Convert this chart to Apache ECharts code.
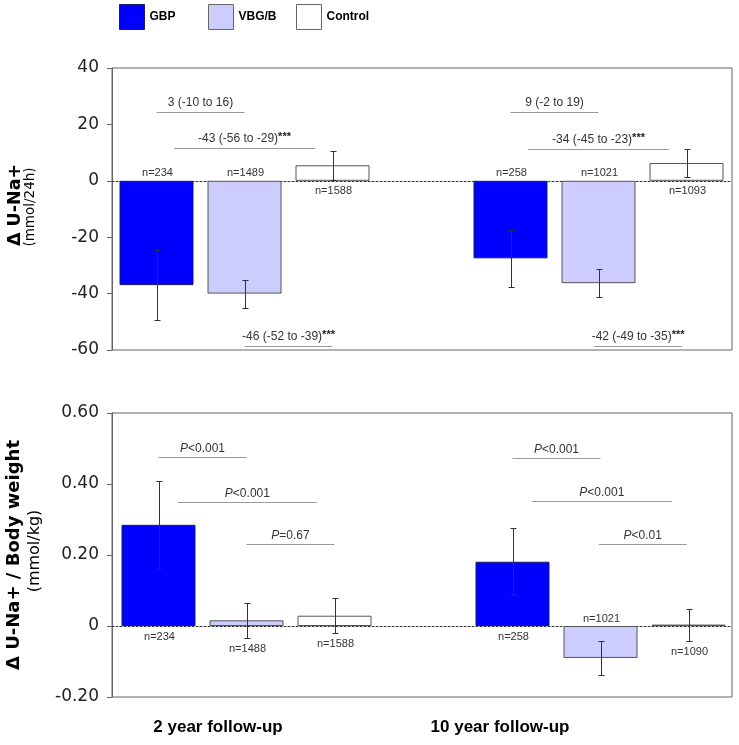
<!DOCTYPE html>
<html><head><meta charset="utf-8">
<script src="https://cdn.jsdelivr.net/npm/echarts@6/dist/echarts.min.js"></script>
<style>html,body{margin:0;padding:0;background:#fff}#c{width:739px;height:745px}</style>
</head><body><div id="c"></div>
<script>
// ---------- data ----------
const categories = ['2 year follow-up', '10 year follow-up'];
const groupNames = ['GBP', 'VBG/B', 'Control'];

// Panel A: change in U-Na+ (mmol/24h)
const naGBP = [-37, -27.5];
const naVBG = [-40, -36.3];
const naCtrl = [5.5, 6.3];
const naErrGBP = [12.3, 10];
const naErrVBG = [5, 5];
const naErrCtrl = [5.2, 5];
const naNGBP = [234, 258];
const naNVBG = [1489, 1021];
const naNCtrl = [1588, 1093];
const naTickLabels = ['-60', '-40', '-20', '0', '20', '40'];

// Panel A comparisons
const naCompCat = [0, 0, 0, 1, 1, 1];
const naCompFrom = [0, 0.2, 1, 0, 0.2, 0.95];
const naCompTo = [1, 1.8, 2, 1, 1.8, 1.95];
const naCompY = [24.5, 11.5, -58.6, 24.4, 11.4, -58.6];
const naCompText = ['3 (-10 to 16)', '-43 (-56 to -29)', '-46 (-52 to -39)', '9 (-2 to 19)', '-34 (-45 to -23)', '-42 (-49 to -35)'];
const naCompStars = ['', '***', '***', '', '***', '***'];

// Panel B: change in U-Na+ / body weight (mmol/kg)
const bwGBP = [0.285, 0.181];
const bwVBG = [0.016, -0.090];
const bwCtrl = [0.029, 0.004];
const bwErrGBP = [0.124, 0.094];
const bwErrVBG = [0.05, 0.048];
const bwErrCtrl = [0.049, 0.045];
const bwNGBP = [234, 258];
const bwNVBG = [1488, 1021];
const bwNCtrl = [1588, 1090];
const bwTickLabels = ['-0.20', '0', '0.20', '0.40', '0.60'];

// Panel B comparisons
const bwCompCat = [0, 0, 0, 1, 1, 1];
const bwCompFrom = [0, 0.22, 1, 0, 0.22, 0.98];
const bwCompTo = [1, 1.8, 2, 1, 1.81, 1.98];
const bwCompY = [0.476, 0.350, 0.230, 0.473, 0.352, 0.231];
const bwCompText = ['<0.001', '<0.001', '=0.67', '<0.001', '<0.001', '<0.01'];

// ---------- styling / layout ----------
const FONT = '"Liberation Sans", Arial, sans-serif';
const BAR_W = 74, BAR_GAP = 14, PITCH = BAR_W + BAR_GAP;
const colors = ['#0000ff', '#ccccff', '#ffffff'];
const borders = ['#1c1c60', '#555555', '#555555'];
const legendLeft = [119, 208, 296];
const axisCats = [categories[0], '', categories[1]];
const catPos = [0, 2];

function barData(arr) { return [arr[0], '-', arr[1]]; }

function errData(vals, errs, ns) {
  const out = [];
  for (let i = 0; i < categories.length; i++) {
    for (let s = 0; s < 3; s++) {
      out.push([catPos[i], s, vals[s][i], errs[s][i], ns[s][i]]);
    }
  }
  return out;
}

function errRender(params, api) {
  const cat = api.value(0), slot = api.value(1), v = api.value(2), e = api.value(3);
  const n = api.value(4);
  const cx = Math.round(api.coord([cat, 0])[0] + (slot - 1) * PITCH) + 0.5;
  const yTop = Math.round(api.coord([cat, v + e])[1]) + 0.5;
  const yBot = Math.round(api.coord([cat, v - e])[1]) + 0.5;
  const y0 = api.coord([cat, 0])[1];
  const st = { stroke: '#333', lineWidth: 1 };
  const children = [
    { type: 'line', shape: { x1: cx, y1: yTop, x2: cx, y2: yBot }, style: st },
    { type: 'line', shape: { x1: cx - 3, y1: yTop, x2: cx + 3, y2: yTop }, style: st },
    { type: 'line', shape: { x1: cx - 3, y1: yBot, x2: cx + 3, y2: yBot }, style: st }
  ];
  let ty, va;
  if (v < 0) { ty = y0 - 2; va = 'bottom'; }
  else { ty = Math.max(y0, yBot) + 5; va = 'top'; }
  children.push({ type: 'text', x: cx, y: ty, z2: 10,
    style: { text: 'n=' + n, fill: '#333', fontSize: 11, fontFamily: FONT, align: 'center', verticalAlign: va } });
  return { type: 'group', children };
}

function compData(cats, from, to, ys) {
  return cats.map((c, i) => [catPos[c], from[i], to[i], ys[i]]);
}

function compRender(textFn) {
  return function (params, api) {
    const cat = api.value(0), f = api.value(1), t = api.value(2), yv = api.value(3);
    const base = api.coord([cat, yv]);
    const y = Math.round(base[1]) + 0.5;
    const x1 = base[0] + (f - 1) * PITCH, x2 = base[0] + (t - 1) * PITCH;
    return { type: 'group', children: [
      { type: 'line', shape: { x1, y1: y, x2, y2: y }, style: { stroke: '#9a9a9a', lineWidth: 1 } },
      { type: 'text', x: (x1 + x2) / 2, y: y - 3,
        style: Object.assign({ align: 'center', verticalAlign: 'bottom', fill: '#333', fontSize: 12, fontFamily: FONT }, textFn(params.dataIndex)) }
    ] };
  };
}

const naTextFn = i => ({
  text: '{a|' + naCompText[i] + '}' + (naCompStars[i] ? '{s|' + naCompStars[i] + '}' : ''),
  rich: {
    a: { fontSize: 12, fontFamily: FONT, fill: '#333', lineHeight: 14 },
    s: { fontSize: 11, fontWeight: 'bold', fontFamily: FONT, fill: '#222', lineHeight: 14, verticalAlign: 'top', padding: [0, 0, 3, 0] }
  }
});
const bwTextFn = i => ({
  text: '{i|P}{a|' + bwCompText[i] + '}',
  rich: {
    i: { fontSize: 12, fontStyle: 'italic', fontFamily: FONT, fill: '#333' },
    a: { fontSize: 12, fontFamily: FONT, fill: '#333' }
  }
});

function frameYAxis(grid, min, max, interval, labels) {
  return {
    gridIndex: grid, type: 'value', min, max, interval,
    axisLine: { show: true, lineStyle: { color: '#666' } },
    axisTick: { show: true, inside: false, length: 5, lineStyle: { color: '#666' } },
    axisLabel: { show: true, margin: 13, fontSize: 17, fontFamily: '"DejaVu Sans", sans-serif', color: '#222',
      showMinLabel: true, showMaxLabel: true,
      formatter: (v, i) => labels[i] !== undefined ? labels[i] : String(v) },
    splitLine: { show: false }
  };
}
function hiddenYAxis(grid, min, max, interval) {
  return { gridIndex: grid, type: 'value', min, max, interval, show: false, splitLine: { show: false } };
}
function frameXAxis(grid) {
  return { gridIndex: grid, type: 'value', min: 0, max: 1,
    axisLine: { show: true, onZero: true, lineStyle: { color: '#333', type: [2, 2], width: 1 } },
    axisTick: { show: false }, axisLabel: { show: false }, splitLine: { show: false } };
}
function catXAxis(grid) {
  return { gridIndex: grid, type: 'category', data: axisCats, show: false, boundaryGap: true };
}

const naVals = [naGBP, naVBG, naCtrl], naErrs = [naErrGBP, naErrVBG, naErrCtrl], naNs = [naNGBP, naNVBG, naNCtrl];
const bwVals = [bwGBP, bwVBG, bwCtrl], bwErrs = [bwErrGBP, bwErrVBG, bwErrCtrl], bwNs = [bwNGBP, bwNVBG, bwNCtrl];

const series = [];
groupNames.forEach((name, s) => {
  series.push({ name, type: 'bar', xAxisIndex: 1, yAxisIndex: 1, data: barData(naVals[s]), clip: false,
    barWidth: BAR_W, barGap: (BAR_GAP / BAR_W * 100) + '%',
    itemStyle: { color: colors[s], borderColor: borders[s], borderWidth: 1 } });
});
groupNames.forEach((name, s) => {
  series.push({ name, type: 'bar', xAxisIndex: 3, yAxisIndex: 3, data: barData(bwVals[s]), clip: false,
    barWidth: BAR_W, barGap: (BAR_GAP / BAR_W * 100) + '%',
    itemStyle: { color: colors[s], borderColor: borders[s], borderWidth: 1 } });
});
series.push({ type: 'custom', xAxisIndex: 1, yAxisIndex: 1, z: 5, clip: false, renderItem: errRender,
  data: errData(naVals, naErrs, naNs), encode: { x: 0, y: 2 } });
series.push({ type: 'custom', xAxisIndex: 3, yAxisIndex: 3, z: 5, clip: false, renderItem: errRender,
  data: errData(bwVals, bwErrs, bwNs), encode: { x: 0, y: 2 } });
series.push({ type: 'custom', xAxisIndex: 1, yAxisIndex: 1, z: 5, clip: false, renderItem: compRender(naTextFn),
  data: compData(naCompCat, naCompFrom, naCompTo, naCompY), encode: { x: 0, y: 3 } });
series.push({ type: 'custom', xAxisIndex: 3, yAxisIndex: 3, z: 5, clip: false, renderItem: compRender(bwTextFn),
  data: compData(bwCompCat, bwCompFrom, bwCompTo, bwCompY), encode: { x: 0, y: 3 } });

const chart = echarts.init(document.getElementById('c'), null, { renderer: 'canvas' });
chart.setOption({
  animation: false,
  backgroundColor: '#fff',
  textStyle: { fontFamily: FONT },
  legend: groupNames.map((name, i) => ({
    data: [name], left: legendLeft[i], top: 4, padding: 0, icon: 'rect', itemWidth: 25, itemHeight: 25,
    selectedMode: false,
    itemStyle: { borderColor: i === 0 ? '#1c1c60' : '#666', borderWidth: 1 },
    textStyle: { fontSize: 12, fontWeight: 'bold', color: '#000', fontFamily: FONT }
  })),
  grid: [
    { left: 112, right: 7, top: 68, height: 282, show: true, borderColor: '#666', borderWidth: 1, backgroundColor: 'transparent', outerBoundsMode: 'none' },
    { left: 156, width: 531, top: 68, height: 282, outerBoundsMode: 'none' },
    { left: 112, right: 7, top: 413, height: 284, show: true, borderColor: '#666', borderWidth: 1, backgroundColor: 'transparent', outerBoundsMode: 'none' },
    { left: 158, width: 531, top: 413, height: 284, outerBoundsMode: 'none' }
  ],
  xAxis: [frameXAxis(0), catXAxis(1), frameXAxis(2), catXAxis(3)],
  yAxis: [
    frameYAxis(0, -60, 40, 20, naTickLabels),
    hiddenYAxis(1, -60, 40, 20),
    frameYAxis(2, -0.2, 0.6, 0.2, bwTickLabels),
    hiddenYAxis(3, -0.2, 0.6, 0.2)
  ],
  series,
  graphic: [
    { type: 'text', x: 15, y: 205, rotation: Math.PI / 2,
      style: { text: '\u0394 U-Na+', fontSize: 17.5, fontWeight: 'bold', fontFamily: '"DejaVu Sans", sans-serif', fill: '#000', align: 'center', verticalAlign: 'middle' } },
    { type: 'text', x: 30, y: 207, rotation: Math.PI / 2,
      style: { text: '(mmol/24h)', fontSize: 13.5, fontFamily: '"DejaVu Sans", sans-serif', fill: '#000', align: 'center', verticalAlign: 'middle' } },
    { type: 'text', x: 14, y: 555, rotation: Math.PI / 2,
      style: { text: '\u0394 U-Na+ / Body weight', fontSize: 18, fontWeight: 'bold', fontFamily: '"DejaVu Sans", sans-serif', fill: '#000', align: 'center', verticalAlign: 'middle' } },
    { type: 'text', x: 35, y: 551, rotation: Math.PI / 2,
      style: { text: '(mmol/kg)', fontSize: 16, fontFamily: '"DejaVu Sans", sans-serif', fill: '#000', align: 'center', verticalAlign: 'middle' } },
    { type: 'text', x: 218, y: 727,
      style: { text: categories[0], fontSize: 17, fontWeight: 'bold', fontFamily: FONT, fill: '#000', align: 'center', verticalAlign: 'middle' } },
    { type: 'text', x: 500, y: 727,
      style: { text: categories[1], fontSize: 17, fontWeight: 'bold', fontFamily: FONT, fill: '#000', align: 'center', verticalAlign: 'middle' } }
  ]
});
</script>
</body></html>
